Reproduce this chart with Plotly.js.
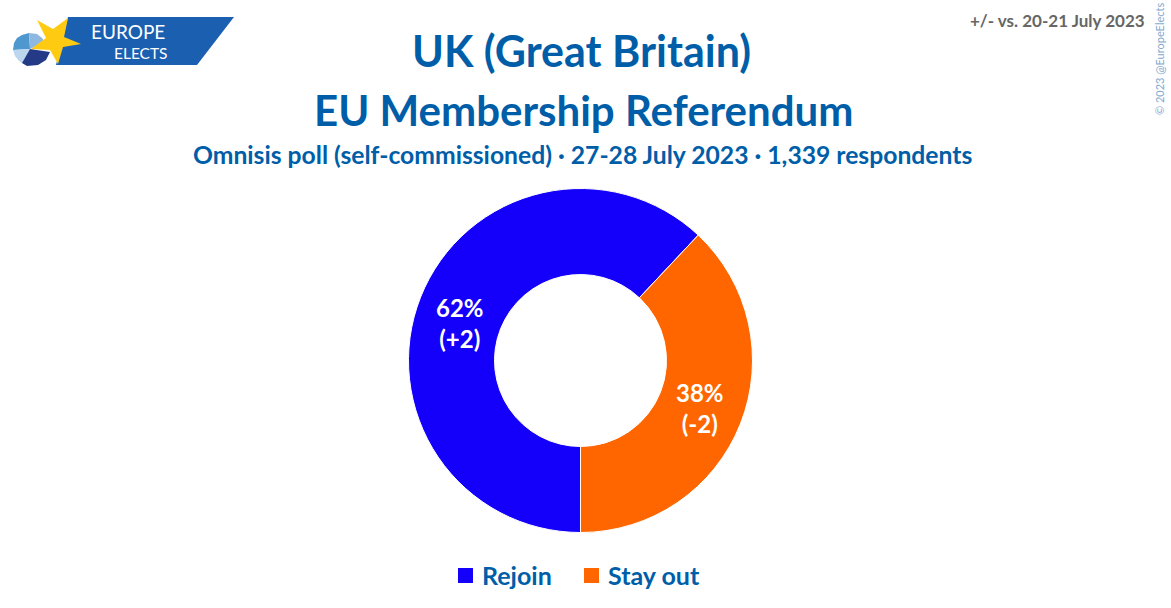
<!DOCTYPE html>
<html>
<head>
<meta charset="utf-8">
<script src="https://cdn.plot.ly/plotly-3.0.1.min.js"></script>
<style>html,body{margin:0;padding:0;background:#fff}</style>
</head>
<body>
<div id="chart" style="width:1171px;height:608px"></div>
<script>
var categories = ["Rejoin", "Stay out"];
var values = [62, 38];
var changes = ["+2", "-2"];
var colors = ["#1400fa", "#ff6600"];

var W = 1171, H = 608;
var blue = "#005ea8";
var font = "Lato, sans-serif";

function px(x) { return x / W; }
function py(y) { return 1 - y / H; }

function poly(points, fill) {
    var d = points.map(function (p, i) {
        return (i ? "L" : "M") + px(p[0]) + "," + py(p[1]);
    }).join(" ") + " Z";
    return {type: "path", xref: "paper", yref: "paper", path: d, fillcolor: fill, line: {width: 0}};
}

function label(x, y, text, size, color, weight, extra) {
    var a = {
        xref: "paper", yref: "paper", x: px(x), y: py(y), text: text, showarrow: false,
        xanchor: "center", yanchor: "middle", borderpad: 0,
        font: {family: font, size: size, color: color, weight: weight}
    };
    for (var k in extra) a[k] = extra[k];
    return a;
}

// logo
var shapes = [
    poly([[68,17],[234,17],[197,65],[56,65]], "#1a5fb0"),
    poly([[13,50],[14,43],[17,38],[22,35],[29,33],[30,49]], "#4f97cf"),
    poly([[29,33],[37,34],[42,38],[45,42],[30,49]], "#8fb8e0"),
    poly([[13,50],[30,49],[22,63],[19,61],[15,56]], "#bcd6ee"),
    poly([[30,49],[50,52],[46,60],[38,65],[27,66],[22,63]], "#253a86"),
    poly([[37,20],[53,29],[68,18],[64,37],[81,44],[63,47],[58,64],[50,50],[31,49],[46,38]], "#ffcb12"),
    // legend swatches
    poly([[458,568],[473,568],[473,583],[458,583]], colors[0]),
    poly([[584,568],[599,568],[599,583],[584,583]], colors[1])
];

var annotations = [
    label(128, 31, "EUROPE", 19, "#ffffff", 400),
    label(141, 53, "ELECTS", 15.5, "#ffffff", 400),
    label(581, 50, "UK (Great Britain)", 43, blue, 700),
    label(583, 110, "EU Membership Referendum", 42, blue, 700),
    label(582, 154, "Omnisis poll (self-commissioned) · 27-28 July 2023 · 1,339 respondents", 24.7, blue, 700),
    label(1146, 20, "+/- vs. 20-21 July 2023", 17, "#666666", 700, {xanchor: "right"}),
    label(1160, 59, "© 2023 @EuropeElects", 11, "#7fa9d0", 400, {textangle: -90}),
    label(481, 575, categories[0], 25, blue, 700, {xanchor: "left"}),
    label(607, 575, categories[1], 25, blue, 700, {xanchor: "left"}),
    label(460, 323, values[0] + "%<br>(" + changes[0] + ")", 24, "#ffffff", 700),
    label(700, 408, values[1] + "%<br>(" + changes[1] + ")", 24, "#ffffff", 700)
];

var trace = {
    type: "pie",
    labels: categories,
    values: values,
    textinfo: "none",
    hole: 0.5,
    sort: false,
    direction: "clockwise",
    rotation: 180,
    marker: {colors: colors, line: {color: "#ffffff", width: 1}},
    domain: {x: [px(408.5), px(752.5)], y: [py(532.5), py(188.5)]}
};

var layout = {
    width: W,
    height: H,
    margin: {l: 0, r: 0, t: 0, b: 0},
    paper_bgcolor: "#ffffff",
    showlegend: false,
    shapes: shapes,
    annotations: annotations
};

Plotly.newPlot("chart", [trace], layout, {displayModeBar: false});
</script>
</body>
</html>
